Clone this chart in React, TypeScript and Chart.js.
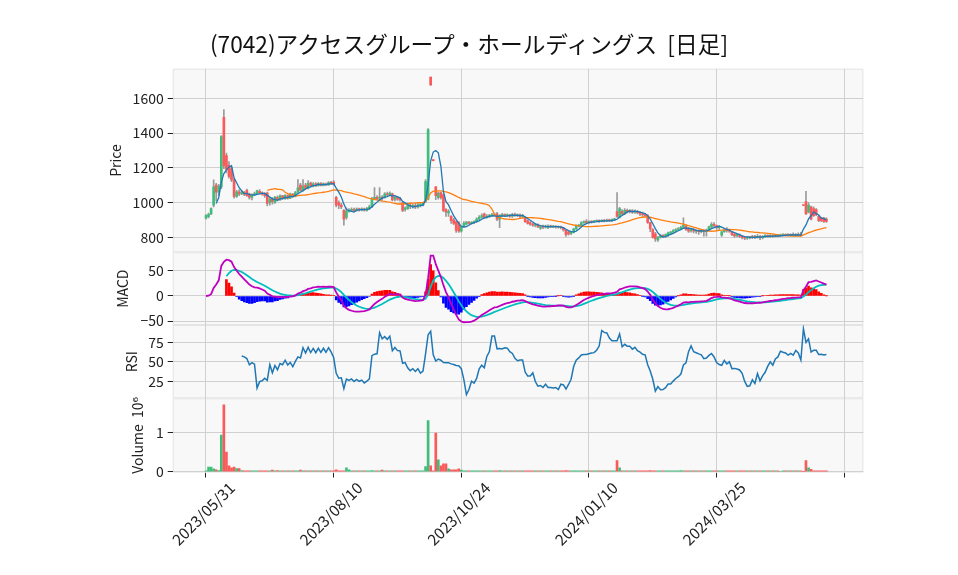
import React, { useEffect, useRef } from 'react';
import { Chart, registerables } from 'chart.js';

Chart.register(...registerables);

const TITLE = '(7042)アクセスグループ・ホールディングス  [日足]';
const TICK_INDEX = [0, 50, 100, 150, 200, 250];
const TICK_LABELS = ['2023/05/31', '2023/08/10', '2023/10/24', '2024/01/10', '2024/03/25', ''];
const PRICE_TICKS = [800, 1000, 1200, 1400, 1600];
const MACD_TICKS = [-50, 0, 50];
const RSI_TICKS = [25, 50, 75];
const VOL_TICKS = [0, 1];

const OPEN = [
  910, 918, 935, 985, 1100, 1060, 1090, 1490, 1270, 1215,
  1195, 1130, 1035, 1062, 1050, 1058, 1070, 1048, 1030, 1045,
  1050, 1065, 1055, 1050, 1055, 1000, 1020, 1000, 1030, 1015,
  1038, 1022, 1040, 1025, 1048, 1035, 1060, 1100, 1070, 1100,
  1080, 1112, 1095, 1108, 1098, 1110, 1100, 1108, 1102, 1115,
  1118, 1030, 1000, 985, 955, 915, 950, 955, 960, 955,
  962, 958, 960, 955, 965, 975, 1020, 1030, 1025, 1030,
  1030, 1050, 1045, 1050, 1020, 1028, 1022, 1000, 960, 965,
  985, 978, 982, 975, 985, 985, 1007, 1020, 1722, 1243,
  1090, 1030, 1057, 1046, 960, 940, 920, 900, 890, 885,
  835, 865, 875, 885, 880, 885, 890, 905, 915, 935,
  915, 920, 925, 930, 935, 905, 925, 930, 925, 928,
  922, 930, 925, 928, 920, 915, 895, 885, 875, 868,
  872, 852, 862, 858, 855, 865, 860, 862, 858, 860,
  852, 840, 830, 822, 828, 848, 865, 865, 885, 892,
  885, 890, 888, 892, 895, 892, 896, 894, 898, 895,
  900, 948, 915, 950, 935, 955, 948, 952, 945, 950,
  942, 935, 930, 925, 885, 845, 820, 785, 800, 810,
  805, 812, 822, 830, 838, 845, 850, 858, 865, 850,
  838, 845, 835, 840, 832, 838, 835, 842, 860, 875,
  868, 855, 812, 832, 840, 838, 830, 818, 810, 812,
  805, 800, 795, 800, 798, 805, 800, 806, 798, 805,
  810, 806, 808, 806, 810, 808, 812, 815, 812, 815,
  812, 815, 812, 815, 985, 1005, 945, 975, 965, 960,
  920, 912, 910, 905,
];

const HIGH = [
  930, 940, 970, 1130, 1110, 1105, 1385, 1535, 1285, 1235,
  1205, 1140, 1070, 1075, 1070, 1065, 1078, 1055, 1050, 1060,
  1072, 1075, 1062, 1058, 1060, 1030, 1028, 1035, 1038, 1045,
  1042, 1046, 1045, 1055, 1052, 1065, 1132, 1110, 1132, 1110,
  1126, 1118, 1115, 1115, 1115, 1115, 1114, 1112, 1120, 1122,
  1126, 1035, 1010, 995, 960, 970, 965, 970, 968, 970,
  968, 970, 968, 972, 985, 1030, 1086, 1040, 1086, 1040,
  1058, 1060, 1062, 1055, 1035, 1035, 1030, 1005, 975, 992,
  995, 990, 995, 998, 1000, 1000, 1132, 1425, 1722, 1245,
  1092, 1060, 1060, 1050, 965, 960, 925, 910, 895, 891,
  865, 890, 892, 892, 890, 895, 912, 925, 935, 940,
  930, 932, 938, 940, 943, 930, 938, 935, 935, 932,
  938, 940, 935, 935, 932, 918, 900, 890, 882, 880,
  878, 865, 870, 870, 872, 870, 868, 868, 866, 865,
  855, 842, 835, 835, 852, 872, 875, 890, 895, 902,
  895, 895, 898, 900, 900, 902, 902, 905, 905, 906,
  910, 1057, 972, 960, 965, 962, 960, 960, 958, 955,
  948, 945, 938, 930, 888, 850, 828, 805, 816, 816,
  820, 830, 835, 845, 850, 856, 865, 912, 872, 858,
  850, 850, 845, 845, 845, 845, 848, 865, 885, 885,
  870, 868, 835, 850, 856, 845, 832, 822, 820, 818,
  810, 805, 805, 805, 812, 812, 816, 812, 810, 816,
  814, 815, 814, 816, 816, 818, 822, 820, 822, 820,
  825, 822, 825, 828, 986, 1065, 1000, 980, 975, 965,
  925, 915, 915, 912,
];

const LOW = [
  905, 912, 930, 975, 1010, 1040, 1080, 1195, 1170, 1140,
  1120, 1025, 1030, 1040, 1045, 1040, 1035, 1020, 1015, 1040,
  1045, 1050, 1042, 1030, 980, 985, 990, 995, 1010, 1012,
  1018, 1018, 1020, 1022, 1030, 1032, 1055, 1065, 1065, 1075,
  1078, 1090, 1090, 1092, 1094, 1096, 1096, 1098, 1098, 1104,
  1100, 975, 965, 965, 870, 905, 945, 948, 948, 950,
  950, 952, 950, 950, 960, 970, 1015, 1015, 1010, 1012,
  1025, 1040, 1040, 1010, 1010, 1012, 1008, 948, 950, 960,
  965, 968, 965, 968, 975, 980, 1000, 1015, 1674, 1240,
  1017, 1020, 1020, 948, 920, 920, 880, 873, 828, 828,
  830, 860, 870, 875, 875, 878, 885, 900, 910, 910,
  910, 915, 918, 920, 895, 856, 918, 918, 920, 915,
  915, 920, 918, 912, 910, 885, 875, 868, 862, 860,
  855, 845, 850, 852, 850, 855, 855, 852, 852, 848,
  835, 805, 812, 815, 825, 845, 860, 862, 880, 880,
  880, 882, 884, 888, 886, 888, 888, 890, 890, 890,
  895, 915, 912, 925, 930, 940, 940, 938, 938, 935,
  925, 920, 918, 880, 833, 795, 776, 776, 795, 798,
  800, 805, 815, 825, 830, 838, 845, 852, 840, 828,
  830, 825, 822, 816, 825, 806, 806, 838, 855, 860,
  845, 845, 805, 828, 830, 828, 810, 800, 802, 798,
  790, 787, 788, 790, 792, 792, 795, 787, 790, 800,
  800, 800, 800, 802, 802, 805, 806, 806, 808, 806,
  808, 806, 808, 806, 982, 931, 940, 900, 920, 925,
  890, 890, 886, 885,
];

const CLOSE = [
  925, 932, 965, 1090, 1060, 1095, 1380, 1210, 1190, 1150,
  1130, 1035, 1062, 1050, 1060, 1048, 1040, 1030, 1045, 1052,
  1068, 1055, 1048, 1040, 995, 1020, 1005, 1030, 1015, 1038,
  1022, 1040, 1025, 1048, 1035, 1058, 1085, 1070, 1095, 1080,
  1110, 1095, 1108, 1098, 1110, 1100, 1108, 1102, 1115, 1110,
  1105, 985, 985, 975, 905, 950, 955, 960, 955, 962,
  958, 962, 958, 965, 975, 1020, 1030, 1022, 1030, 1025,
  1050, 1045, 1055, 1015, 1030, 1020, 1015, 955, 970, 985,
  978, 982, 975, 985, 990, 995, 1120, 1420, 1676, 1241,
  1040, 1055, 1028, 955, 945, 950, 895, 880, 840, 835,
  862, 880, 888, 880, 885, 890, 905, 915, 925, 915,
  920, 925, 930, 925, 905, 925, 930, 925, 928, 922,
  930, 925, 928, 920, 925, 890, 880, 875, 870, 872,
  860, 860, 858, 862, 865, 860, 862, 858, 860, 855,
  842, 815, 820, 830, 848, 865, 870, 885, 890, 885,
  890, 888, 892, 895, 892, 896, 894, 898, 895, 900,
  905, 920, 965, 935, 955, 948, 952, 945, 950, 942,
  935, 930, 925, 885, 850, 800, 790, 800, 810, 805,
  815, 825, 830, 838, 845, 850, 858, 870, 845, 835,
  845, 835, 840, 832, 838, 835, 842, 860, 875, 868,
  855, 860, 832, 840, 838, 835, 815, 808, 812, 805,
  800, 795, 800, 798, 805, 800, 806, 798, 805, 810,
  806, 808, 806, 810, 808, 812, 815, 812, 815, 812,
  815, 812, 815, 812, 983, 935, 985, 905, 925, 930,
  895, 895, 890, 892,
];

// volume in millions of shares
const VOLUME = [
  0.02, 0.12, 0.12, 0.07, 0.05, 0.03, 0.93, 1.70, 0.50, 0.15,
  0.10, 0.12, 0.08, 0.08, 0.03, 0.02, 0.02, 0.02, 0.02, 0.02,
  0.02, 0.02, 0.02, 0.02, 0.02, 0.02, 0.04, 0.02, 0.03, 0.02,
  0.02, 0.02, 0.02, 0.02, 0.02, 0.02, 0.02, 0.04, 0.02, 0.02,
  0.02, 0.02, 0.02, 0.02, 0.02, 0.02, 0.02, 0.02, 0.02, 0.02,
  0.02, 0.05, 0.02, 0.02, 0.02, 0.10, 0.05, 0.02, 0.02, 0.02,
  0.02, 0.02, 0.02, 0.02, 0.02, 0.03, 0.02, 0.02, 0.02, 0.04,
  0.02, 0.02, 0.02, 0.02, 0.02, 0.02, 0.02, 0.02, 0.02, 0.02,
  0.02, 0.02, 0.02, 0.02, 0.02, 0.02, 0.13, 1.30, 0.15, 0.02,
  0.98, 0.30, 0.15, 0.20, 0.20, 0.07, 0.05, 0.05, 0.05, 0.07,
  0.04, 0.02, 0.02, 0.02, 0.02, 0.02, 0.02, 0.02, 0.02, 0.02,
  0.02, 0.02, 0.02, 0.02, 0.02, 0.03, 0.02, 0.02, 0.02, 0.02,
  0.02, 0.02, 0.02, 0.02, 0.02, 0.02, 0.02, 0.02, 0.02, 0.02,
  0.02, 0.02, 0.02, 0.02, 0.02, 0.02, 0.02, 0.02, 0.02, 0.02,
  0.02, 0.03, 0.02, 0.02, 0.02, 0.02, 0.02, 0.02, 0.02, 0.02,
  0.02, 0.02, 0.02, 0.02, 0.02, 0.02, 0.02, 0.02, 0.02, 0.02,
  0.02, 0.28, 0.10, 0.02, 0.02, 0.02, 0.02, 0.02, 0.02, 0.02,
  0.02, 0.02, 0.02, 0.02, 0.03, 0.02, 0.02, 0.02, 0.02, 0.02,
  0.02, 0.02, 0.02, 0.02, 0.02, 0.02, 0.03, 0.02, 0.02, 0.02,
  0.02, 0.02, 0.02, 0.02, 0.02, 0.02, 0.02, 0.02, 0.02, 0.02,
  0.02, 0.02, 0.02, 0.02, 0.02, 0.02, 0.02, 0.02, 0.02, 0.02,
  0.02, 0.02, 0.02, 0.02, 0.02, 0.02, 0.02, 0.02, 0.02, 0.02,
  0.02, 0.02, 0.02, 0.02, 0.02, 0.00, 0.02, 0.02, 0.02, 0.02,
  0.02, 0.02, 0.02, 0.02, 0.01, 0.28, 0.10, 0.06, 0.02, 0.02,
  0.02, 0.02, 0.02, 0.02,
];

const UP = '#40bd7b';
const DOWN = '#fa5a5a';
const FONT_FAMILY = "'Noto Sans CJK JP', 'DejaVu Sans', sans-serif";
const TICK_FONT = { family: FONT_FAMILY, size: 14 };
const XTICK_FONT = { family: FONT_FAMILY, size: 15.5 };

function sma(a: number[], n: number): (number | null)[] {
  return a.map((_, i) => {
    if (i < n - 1) return null;
    let s = 0;
    for (let k = i - n + 1; k <= i; k++) s += a[k];
    return s / n;
  });
}

function ema(a: number[], n: number): number[] {
  const k = 2 / (n + 1);
  const out: number[] = [];
  let prev = a[0];
  for (let i = 0; i < a.length; i++) {
    prev = i === 0 ? a[0] : a[i] * k + prev * (1 - k);
    out.push(prev);
  }
  return out;
}

function rsi(c: number[], n: number): (number | null)[] {
  return c.map((_, i) => {
    if (i < n) return null;
    let g = 0, l = 0;
    for (let k = i - n + 1; k <= i; k++) {
      const d = c[k] - c[k - 1];
      if (d > 0) g += d; else l -= d;
    }
    return l === 0 ? 100 : 100 - 100 / (1 + g / l);
  });
}

function fixedTicks(values: number[]) {
  return (s: any) => {
    s.ticks = values.map((v) => ({ value: v }));
  };
}

function yAxis(weight: number, min: number, max: number, ticks: number[], title: string, titleX: number, fmt?: (v: number) => string) {
  return {
    type: 'linear',
    position: 'left',
    stack: 'panels',
    stackWeight: weight,
    min,
    max,
    afterBuildTicks: fixedTicks(ticks),
    afterFit: (s: any) => { s.width = 172.7; },
    ticks: {
      font: TICK_FONT,
      color: '#222',
      padding: 4,
      callback: (v: any) => (fmt ? fmt(Number(v)) : String(v)),
    },
    grid: { color: '#d0d0d0', lineWidth: 1, tickLength: 5, tickColor: '#222', drawTicks: true },
    border: { display: false },
    title: {
      display: true,
      text: title,
      font: TICK_FONT,
      color: '#222',
      padding: { top: titleX - 8.4, bottom: 0 },
    },
  };
}

const panelBg = {
  id: 'panelBg',
  beforeDraw(chart: any) {
    const { ctx, chartArea } = chart;
    ctx.save();
    for (const id of ['price', 'macd', 'rsi', 'vol']) {
      const s = chart.scales[id];
      ctx.fillStyle = '#f8f8f8';
      ctx.fillRect(chartArea.left, s.top, chartArea.right - chartArea.left, s.bottom - s.top);
      ctx.strokeStyle = '#e4e4e4';
      ctx.lineWidth = 1;
      ctx.strokeRect(chartArea.left + 0.5, s.top + 0.5, chartArea.right - chartArea.left - 1, s.bottom - s.top - 1);
    }
    ctx.restore();
  },
};

export default function App() {
  const ref = useRef<HTMLCanvasElement | null>(null);

  useEffect(() => {
    const idx = CLOSE.map((_, i) => i);
    const colors = idx.map((i) => (CLOSE[i] >= OPEN[i] ? UP : DOWN));
    const ma5 = sma(CLOSE, 5);
    const ma25 = sma(CLOSE, 25);
    const e12 = ema(CLOSE, 12);
    const e26 = ema(CLOSE, 26);
    const macd = idx.map((i) => e12[i] - e26[i]);
    const sig = ema(macd, 9);
    const hist = idx.map((i) => macd[i] - sig[i]);
    const rs = rsi(CLOSE, 14);

    const line = (data: (number | null)[], axis: string, color: string, width: number, from = 0) => ({
      type: 'line',
      data: idx.map((i) => ({ x: i, y: i < from ? null : data[i] })),
      yAxisID: axis,
      borderColor: color,
      borderWidth: width,
      pointRadius: 0,
      tension: 0,
      spanGaps: false,
      order: 1,
    });

    const chart = new Chart(ref.current as HTMLCanvasElement, {
      type: 'line',
      data: {
        datasets: [
          {
            type: 'bar',
            data: idx.map((i) => ({ x: i, y: [LOW[i], HIGH[i]] })),
            yAxisID: 'price',
            backgroundColor: '#9a9a9a',
            barThickness: 1,
            grouped: false,
            order: 6,
          },
          {
            type: 'bar',
            data: idx.map((i) => ({ x: i, y: [OPEN[i], CLOSE[i]] })),
            yAxisID: 'price',
            backgroundColor: colors,
            barThickness: 2,
            minBarLength: 1,
            grouped: false,
            order: 5,
          },
          line(ma5, 'price', '#1f77b4', 1.3),
          line(ma25, 'price', '#ff7f0e', 1.3),
          {
            type: 'bar',
            data: idx.map((i) => ({ x: i, y: i < 8 ? null : hist[i] })),
            yAxisID: 'macd',
            backgroundColor: idx.map((i) => (hist[i] >= 0 ? '#ff0000' : '#0000ff')),
            barThickness: 2,
            grouped: false,
            order: 5,
          },
          line(macd, 'macd', '#bf00bf', 1.8),
          line(sig, 'macd', '#00bfbf', 1.8, 8),
          line(rs, 'rsi', '#1f77b4', 1.5),
          {
            type: 'bar',
            data: idx.map((i) => ({ x: i, y: VOLUME[i] })),
            yAxisID: 'vol',
            backgroundColor: colors,
            barThickness: 2,
            grouped: false,
            order: 5,
          },
        ] as any,
      },
      options: {
        responsive: false,
        animation: false,
        devicePixelRatio: 1,
        events: [],
        layout: { padding: { left: 0, top: 68.7, right: 94.7, bottom: 0 } },
        plugins: { legend: { display: false }, tooltip: { enabled: false }, title: { display: false } },
        scales: {
          x: {
            type: 'linear',
            position: 'bottom',
            min: -13.04,
            max: 257.45,
            offset: false,
            afterBuildTicks: fixedTicks(TICK_INDEX),
            afterFit: (s: any) => { s.height = 102.5; },
            ticks: {
              autoSkip: false,
              maxRotation: 45,
              minRotation: 45,
              font: XTICK_FONT,
              color: '#222',
              labelOffset: 26,
              padding: 1,
              callback: (v: any) => {
                const k = TICK_INDEX.indexOf(Number(v));
                return k >= 0 ? TICK_LABELS[k] : '';
              },
            },
            grid: { color: '#d0d0d0', lineWidth: 1, tickLength: 5, tickColor: '#222', drawTicks: true, offset: false },
            border: { display: false },
          },
          vol: yAxis(74.2, -0.02, 1.863, VOL_TICKS, 'Volume  10\u2076', 138),
          rsi: yAxis(73.3, 3.2, 97.2, RSI_TICKS, 'RSI', 131.7),
          macd: yAxis(72.7, -57.7, 86.9, MACD_TICKS, 'MACD', 122.5, (v) => (v < 0 ? '\u2212' + Math.abs(v) : String(v))),
          price: yAxis(183.6, 713.7, 1770, PRICE_TICKS, 'Price', 115.5),
        } as any,
      },
      plugins: [panelBg],
    } as any);
    return () => chart.destroy();
  }, []);

  return (
    <div style={{ position: 'fixed', left: 0, top: 0, width: 958, height: 575, background: '#fff' }}>
      <canvas ref={ref} width={958} height={575} style={{ position: 'absolute', left: 0, top: 0, width: 958, height: 575 }} />
      <div
        style={{
          position: 'absolute',
          left: 469,
          top: 30,
          transform: 'translateX(-50%)',
          whiteSpace: 'pre',
          fontFamily: "'Noto Sans CJK JP', sans-serif",
          fontSize: 22.7,
          lineHeight: '28px',
          color: '#111',
        }}
      >
        {TITLE}
      </div>
    </div>
  );
}
